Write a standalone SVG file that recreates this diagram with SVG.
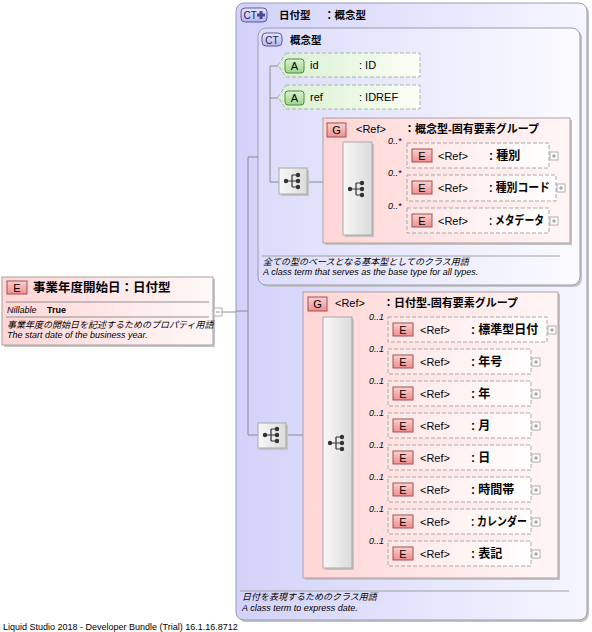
<svg xmlns="http://www.w3.org/2000/svg" width="592" height="632" viewBox="0 0 592 632">
<defs>
<linearGradient id="ctG" x1="0" y1="0" x2="1" y2="0"><stop offset="0" stop-color="#d2d2fa"/><stop offset="1" stop-color="#f6f6ff"/></linearGradient>
<linearGradient id="ctG2" x1="0" y1="0" x2="1" y2="0"><stop offset="0" stop-color="#dcdcfb"/><stop offset="1" stop-color="#fbfbff"/></linearGradient>
<linearGradient id="gG" x1="0" y1="0" x2="1" y2="0"><stop offset="0" stop-color="#ffd6d6"/><stop offset="1" stop-color="#fff6f6"/></linearGradient>
<linearGradient id="eG" x1="0" y1="0" x2="1" y2="0"><stop offset="0" stop-color="#ffe6e6"/><stop offset="1" stop-color="#ffffff"/></linearGradient>
<linearGradient id="mG" x1="0" y1="0" x2="1" y2="0"><stop offset="0" stop-color="#ffd6d6"/><stop offset="1" stop-color="#fff8f8"/></linearGradient>
<linearGradient id="aG" x1="0" y1="0" x2="1" y2="0"><stop offset="0" stop-color="#d8f0d0"/><stop offset="1" stop-color="#fbfff8"/></linearGradient>
<linearGradient id="cG" x1="0" y1="0" x2="1" y2="0"><stop offset="0" stop-color="#f8f8f8"/><stop offset="1" stop-color="#dcdcdc"/></linearGradient>
<linearGradient id="eb" x1="0" y1="0" x2="0" y2="1"><stop offset="0" stop-color="#fbd0d0"/><stop offset="1" stop-color="#f09090"/></linearGradient>
<linearGradient id="ab" x1="0" y1="0" x2="0" y2="1"><stop offset="0" stop-color="#d8f4d0"/><stop offset="1" stop-color="#9ed48e"/></linearGradient>
<linearGradient id="cb" x1="0" y1="0" x2="0" y2="1"><stop offset="0" stop-color="#e8e8ff"/><stop offset="1" stop-color="#b4b4ec"/></linearGradient>
<g id="seqIcon">
<circle cx="-8" cy="0" r="2.2" fill="#333"/>
<path d="M-8,0 H-2 M-2,-6 V6 M-2,-6 H4 M-2,0 H4 M-2,6 H4" stroke="#333" stroke-width="1.2" fill="none"/>
<circle cx="4" cy="-6" r="2.2" fill="#333"/><circle cx="4" cy="0" r="2.2" fill="#333"/><circle cx="4" cy="6" r="2.2" fill="#333"/>
</g>
<g id="plusBtn">
<rect x="0" y="0" width="8" height="8" fill="#fff" stroke="#b0b0b0" stroke-width="1"/>
<path d="M2,4 H6 M4,2 V6" stroke="#909090" stroke-width="1"/>
</g>
</defs>
<style>
text{font-family:"Liberation Sans","Noto Sans CJK JP",sans-serif;fill:#000}
.t{font-size:11px}
.b{font-size:11px;font-weight:bold}
.lb{font-size:12px;font-weight:bold}
.hb{font-size:10.5px;font-weight:bold}
.badge{font-size:11px;text-anchor:middle}
.card{font-size:9px;font-style:italic}
.desc{font-size:9px;font-style:italic}
.sm{font-size:9px}
.ln{stroke:#8c8c8c;stroke-width:1;fill:none}
.sh{fill:#c4c4c4}
.eref{fill:url(#eG);stroke:#a8a8a8;stroke-dasharray:4,2}
.eb{fill:url(#eb);stroke:#a05050}
.gbox{fill:url(#gG);stroke:#b0a0a0}
.comp{fill:url(#cG);stroke:#a8a8a8}
</style>

<!-- outer complex type -->
<g id="ct-outer">
<rect x="238" y="5" width="351" height="617" rx="8" class="sh"/>
<rect x="236" y="3" width="351" height="617" rx="8" fill="url(#ctG)" stroke="#9a9ab4"/>
<rect x="241" y="8" width="26" height="14" rx="4" fill="url(#cb)" stroke="#5a5a98"/>
<text x="243.5" y="19" style="font-size:10px;fill:#202050">CT</text>
<path d="M259.5,11 h3 v2.5 h2.5 v3 h-2.5 v2.5 h-3 v-2.5 h-2.5 v-3 h2.5 Z" fill="#4a4a90"/>
<text x="279" y="19" class="hb">日付型</text>
<text x="324" y="19" class="hb">：概念型</text>
<line x1="240" y1="591" x2="569" y2="591" stroke="#a0a0a0"/>
<text x="242" y="600" class="desc">日付を表現するためのクラス用語</text>
<text x="242" y="611" class="desc">A class term to express date.</text>
</g>

<!-- inner complex type -->
<g id="ct-inner">
<rect x="260" y="30" width="322" height="257" rx="8" class="sh"/>
<rect x="258" y="28" width="322" height="257" rx="8" fill="url(#ctG2)" stroke="#9a9ab4"/>
<rect x="262" y="33" width="20" height="13" rx="4" fill="url(#cb)" stroke="#5a5a98"/>
<text x="272" y="43.5" class="badge" style="font-size:10px;fill:#202050">CT</text>
<text x="290" y="44" class="hb">概念型</text>
<line x1="262" y1="256" x2="560" y2="256" stroke="#a0a0a0"/>
<text x="263" y="265" class="desc">全ての型のベースとなる基本型としてのクラス用語</text>
<text x="263" y="275" class="desc">A class term that serves as the base type for all types.</text>
</g>

<!-- connectors -->
<g id="connectors">
<path class="ln" d="M222,312 H236"/>
<path class="ln" d="M236,311 H248 M248,157 V435 H258 M248,157 H258"/>
<path class="ln" d="M270,66 V182 H279 M270,66 H278 M270,98 H278"/>
<path class="ln" d="M307,182 H323 M323,189 H343"/>
<path class="ln" d="M372,157 H407 M372,188 H407 M372,220 H407"/>
<path class="ln" d="M286,435 H303 M303,443 H323"/>
<path class="ln" d="M352,330 H388 M352,362 H388 M352,394 H388 M352,426 H388 M352,458 H388 M352,490 H388 M352,522 H388 M352,554 H388"/>
</g>

<!-- main element -->
<g id="el-main">
<rect x="4" y="279" width="211" height="68" class="sh"/>
<rect x="2" y="277" width="211" height="68" fill="url(#mG)" stroke="#a8a0a0"/>
<rect x="7" y="281" width="20" height="13" class="eb"/>
<text x="17" y="291.5" class="badge">E</text>
<text x="33" y="292" style="font-size:12.5px;font-weight:bold">事業年度開始日：日付型</text>
<line x1="6" y1="302" x2="209" y2="302" stroke="#909090"/>
<text x="7" y="313" class="sm" style="font-style:italic">Nillable</text>
<text x="47" y="313" class="sm" style="font-weight:bold">True</text>
<line x1="6" y1="317" x2="209" y2="317" stroke="#909090"/>
<text x="7" y="328" class="desc">事業年度の開始日を記述するためのプロパティ用語</text>
<text x="7" y="338" class="desc">The start date of the business year.</text>
<rect x="214" y="308" width="8" height="8" fill="#fff" stroke="#b0b0b0"/>
<path d="M216,312 H220" stroke="#909090"/>
</g>

<!-- attributes -->
<g id="attr-id">
<path d="M286,53 H420 V77 H286 L278,65 Z" fill="url(#aG)" stroke="#a8b8a0" stroke-dasharray="4,2"/>
<rect x="285" y="59" width="19" height="14" rx="3" fill="url(#ab)" stroke="#4e8a44"/>
<text x="294.5" y="70" class="badge">A</text>
<text x="310" y="69" class="t">id</text>
<text x="359" y="69" class="t">: ID</text>
</g>
<g id="attr-ref">
<path d="M286,85 H420 V109 H286 L278,97 Z" fill="url(#aG)" stroke="#a8b8a0" stroke-dasharray="4,2"/>
<rect x="285" y="91" width="19" height="14" rx="3" fill="url(#ab)" stroke="#4e8a44"/>
<text x="294.5" y="102" class="badge">A</text>
<text x="310" y="101" class="t">ref</text>
<text x="359" y="101" class="t">: IDREF</text>
</g>

<!-- sequence 1 -->
<g id="seq1">
<rect x="281" y="170" width="28" height="26" class="sh"/>
<rect x="279" y="168" width="28" height="26" class="comp"/>
<use href="#seqIcon" x="294" y="181"/>
</g>

<!-- group 1 -->
<g id="group1">
<rect x="325" y="120" width="247" height="125" class="sh"/>
<rect x="323" y="118" width="247" height="125" class="gbox"/>
<rect x="327" y="123" width="19" height="14" class="eb"/>
<text x="336.5" y="134" class="badge">G</text>
<text x="356" y="133" class="t">&lt;Ref&gt;</text>
<text x="404" y="133" class="b">：概念型-固有要素グループ</text>
<rect x="345" y="144" width="29" height="93" class="sh"/>
<rect x="343" y="142" width="29" height="93" class="comp"/>
<use href="#seqIcon" x="358" y="189"/>
</g>

<g id="g1-e1">
<text x="388" y="144" class="card">0..*</text>
<rect x="407" y="143" width="142" height="25" class="eref"/>
<rect x="412" y="149" width="20" height="13" class="eb"/>
<text x="422" y="159.5" class="badge">E</text>
<text x="438" y="160" class="t">&lt;Ref&gt;</text>
<text x="489" y="160" class="lb">: 種別</text>
<use href="#plusBtn" x="550" y="152"/>
</g>
<g id="g1-e2">
<text x="388" y="176" class="card">0..*</text>
<rect x="407" y="175" width="149" height="26" class="eref"/>
<rect x="412" y="181" width="20" height="13" class="eb"/>
<text x="422" y="191.5" class="badge">E</text>
<text x="438" y="192" class="t">&lt;Ref&gt;</text>
<text x="489" y="192" class="lb" textLength="61" lengthAdjust="spacingAndGlyphs">: 種別コード</text>
<use href="#plusBtn" x="557" y="184"/>
</g>
<g id="g1-e3">
<text x="388" y="209" class="card">0..*</text>
<rect x="407" y="208" width="142" height="25" class="eref"/>
<rect x="412" y="214" width="20" height="13" class="eb"/>
<text x="422" y="224.5" class="badge">E</text>
<text x="438" y="225" class="t">&lt;Ref&gt;</text>
<text x="489" y="225" class="lb" textLength="55" lengthAdjust="spacingAndGlyphs">: メタデータ</text>
<use href="#plusBtn" x="550" y="217"/>
</g>

<!-- sequence 2 -->
<g id="seq2">
<rect x="260" y="425" width="28" height="25" class="sh"/>
<rect x="258" y="423" width="28" height="25" class="comp"/>
<use href="#seqIcon" x="273" y="435"/>
</g>

<!-- group 2 -->
<g id="group2">
<rect x="305" y="294" width="255" height="286" class="sh"/>
<rect x="303" y="292" width="255" height="286" class="gbox"/>
<rect x="308" y="297" width="19" height="14" class="eb"/>
<text x="317.5" y="308" class="badge">G</text>
<text x="335" y="307" class="t">&lt;Ref&gt;</text>
<text x="383" y="307" class="b">：日付型-固有要素グループ</text>
<rect x="325" y="319" width="29" height="251" class="sh"/>
<rect x="323" y="317" width="29" height="251" class="comp"/>
<use href="#seqIcon" x="338" y="443"/>
</g>

<g id="g2-e1">
<text x="369" y="320" class="card">0..1</text>
<rect x="388" y="317" width="159" height="25" class="eref"/>
<rect x="393" y="323" width="20" height="13" class="eb"/>
<text x="403" y="333.5" class="badge">E</text>
<text x="420" y="334" class="t">&lt;Ref&gt;</text>
<text x="471" y="334" class="lb">: 標準型日付</text>
<use href="#plusBtn" x="548" y="326"/>
</g>
<g id="g2-e2">
<text x="369" y="352" class="card">0..1</text>
<rect x="388" y="349" width="143" height="25" class="eref"/>
<rect x="393" y="355" width="20" height="13" class="eb"/>
<text x="403" y="365.5" class="badge">E</text>
<text x="420" y="366" class="t">&lt;Ref&gt;</text>
<text x="471" y="366" class="lb">: 年号</text>
<use href="#plusBtn" x="532" y="358"/>
</g>
<g id="g2-e3">
<text x="369" y="384" class="card">0..1</text>
<rect x="388" y="381" width="143" height="25" class="eref"/>
<rect x="393" y="387" width="20" height="13" class="eb"/>
<text x="403" y="397.5" class="badge">E</text>
<text x="420" y="398" class="t">&lt;Ref&gt;</text>
<text x="471" y="398" class="lb">: 年</text>
<use href="#plusBtn" x="532" y="390"/>
</g>
<g id="g2-e4">
<text x="369" y="416" class="card">0..1</text>
<rect x="388" y="413" width="143" height="25" class="eref"/>
<rect x="393" y="419" width="20" height="13" class="eb"/>
<text x="403" y="429.5" class="badge">E</text>
<text x="420" y="430" class="t">&lt;Ref&gt;</text>
<text x="471" y="430" class="lb">: 月</text>
<use href="#plusBtn" x="532" y="422"/>
</g>
<g id="g2-e5">
<text x="369" y="448" class="card">0..1</text>
<rect x="388" y="445" width="143" height="25" class="eref"/>
<rect x="393" y="451" width="20" height="13" class="eb"/>
<text x="403" y="461.5" class="badge">E</text>
<text x="420" y="462" class="t">&lt;Ref&gt;</text>
<text x="471" y="462" class="lb">: 日</text>
<use href="#plusBtn" x="532" y="454"/>
</g>
<g id="g2-e6">
<text x="369" y="480" class="card">0..1</text>
<rect x="388" y="477" width="143" height="25" class="eref"/>
<rect x="393" y="483" width="20" height="13" class="eb"/>
<text x="403" y="493.5" class="badge">E</text>
<text x="420" y="494" class="t">&lt;Ref&gt;</text>
<text x="471" y="494" class="lb">: 時間帯</text>
<use href="#plusBtn" x="532" y="486"/>
</g>
<g id="g2-e7">
<text x="369" y="512" class="card">0..1</text>
<rect x="388" y="509" width="143" height="25" class="eref"/>
<rect x="393" y="515" width="20" height="13" class="eb"/>
<text x="403" y="525.5" class="badge">E</text>
<text x="420" y="526" class="t">&lt;Ref&gt;</text>
<text x="471" y="526" class="lb" textLength="56" lengthAdjust="spacingAndGlyphs">: カレンダー</text>
<use href="#plusBtn" x="532" y="518"/>
</g>
<g id="g2-e8">
<text x="369" y="544" class="card">0..1</text>
<rect x="388" y="541" width="143" height="25" class="eref"/>
<rect x="393" y="547" width="20" height="13" class="eb"/>
<text x="403" y="557.5" class="badge">E</text>
<text x="420" y="558" class="t">&lt;Ref&gt;</text>
<text x="471" y="558" class="lb">: 表記</text>
<use href="#plusBtn" x="532" y="550"/>
</g>

<text x="3" y="630" style="font-size:9px">Liquid Studio 2018 - Developer Bundle (Trial) 16.1.16.8712</text>
</svg>
